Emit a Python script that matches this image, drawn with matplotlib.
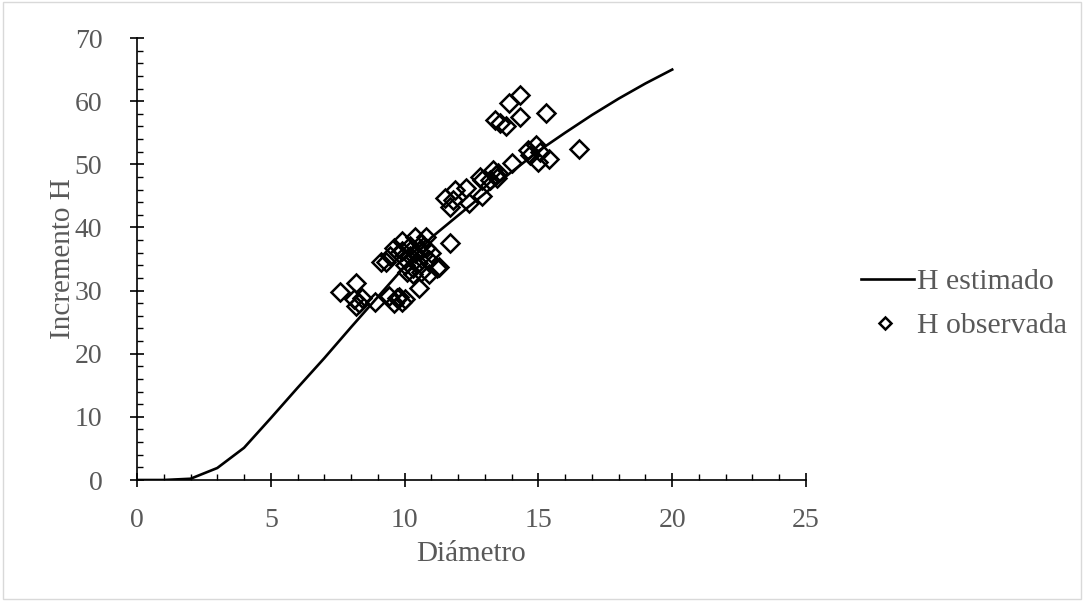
import matplotlib
matplotlib.use("Agg")
import matplotlib.pyplot as plt
from matplotlib.ticker import MultipleLocator
from matplotlib.patches import Rectangle

# Estimated curve
diam_est = [0, 1, 2, 3, 4, 5, 6, 7, 8, 9, 10, 11, 12, 13, 14, 15, 16, 17, 18, 19, 20]
h_est = [0.0, 0.0, 0.2, 1.9, 5.1, 9.8, 14.6, 19.3, 24.2, 29.0, 33.8, 38.4,
         41.9, 45.4, 48.8, 52.1, 55.0, 57.8, 60.4, 62.8, 65.0]

# Observed points
diam_obs = [7.6, 8.2, 8.1, 8.2, 8.3, 8.4, 8.9, 9.4, 9.6, 9.8, 10.0, 9.7, 9.9,
            10.55, 9.1, 9.3, 9.45, 9.8, 9.6, 9.9, 10.0, 10.2, 10.4, 10.55, 10.8,
            10.9, 10.1, 10.3, 10.5, 10.7, 9.9, 10.2, 10.4, 10.6, 10.8, 11.0,
            10.9, 11.2, 11.3, 10.0, 10.3, 10.6, 11.7,
            11.5, 11.7, 11.9, 12.3, 12.4, 11.8, 12.9,
            12.8, 12.9, 13.2, 13.3, 13.4, 13.5, 13.45,
            14.0, 14.6, 14.7, 14.9, 15.0, 15.05, 15.4,
            13.36, 13.55, 13.8, 13.9, 14.3, 14.3, 15.3, 16.5]
h_obs = [29.8, 31.2, 28.6, 27.6, 28.0, 28.8, 28.2, 29.2, 28.0, 29.0, 28.6, 28.8, 28.2,
         30.4, 34.6, 34.6, 35.4, 35.9, 36.8, 37.8, 34.0, 35.5, 38.5, 36.2, 38.5,
         34.8, 33.0, 33.6, 34.4, 35.6, 36.2, 37.0, 36.0, 37.4, 36.8, 36.0,
         32.7, 33.5, 33.8, 35.0, 32.6, 32.9, 37.5,
         44.6, 43.3, 45.9, 46.2, 43.8, 44.3, 44.9,
         48.0, 47.5, 47.5, 49.1, 48.3, 48.6, 47.8,
         50.2, 52.3, 51.5, 53.1, 50.4, 52.0, 50.9,
         57.0, 56.5, 56.0, 59.7, 61.0, 57.5, 58.1, 52.5]

x_ticks = [0, 5, 10, 15, 20, 25]
y_ticks = [0, 10, 20, 30, 40, 50, 60, 70]

plt.rcParams['font.family'] = ['Liberation Serif', 'DejaVu Serif']
txt = '#595959'

fig = plt.figure(figsize=(10.84, 6.01), dpi=100)
ax = fig.add_axes([137/1084, 121/601, 669/1084, 442/601])

line_est, = ax.plot(diam_est, h_est, color='black', lw=1.9, label='H estimado', zorder=3)
pts_obs, = ax.plot(diam_obs, h_obs, linestyle='none', marker='D', ms=9.5, mfc='none',
                   mec='black', mew=1.8, label='H observada', zorder=4)

ax.set_xlim(0, 25)
ax.set_ylim(0, 70)
ax.set_xticks(x_ticks)
ax.set_yticks(y_ticks)
ax.xaxis.set_minor_locator(MultipleLocator(1))
ax.yaxis.set_minor_locator(MultipleLocator(2))
for s in ['top', 'right']:
    ax.spines[s].set_visible(False)
for s in ['left', 'bottom']:
    ax.spines[s].set_color('black')
    ax.spines[s].set_linewidth(1.2)
ax.tick_params(which='major', direction='inout', length=10, width=1.2,
               colors='black', labelcolor=txt, labelsize=20)
ax.tick_params(which='minor', direction='in', length=4.5, width=1.0, colors='black')
ax.tick_params(axis='y', which='major', pad=20)
ax.tick_params(axis='x', which='major', pad=15)

ax.set_xlabel('Diámetro', fontsize=21, color=txt, labelpad=6)
ax.set_ylabel('Incremento H', fontsize=21, color=txt, labelpad=-1)

fs = 21.5
fpx = fs * 100 / 72
leg1 = fig.legend(handles=[line_est], loc='center left',
                  bbox_to_anchor=(861/1084, 1 - 282/601), frameon=False,
                  fontsize=fs, labelcolor=txt, handlelength=53/fpx,
                  handletextpad=3/fpx, borderpad=0, borderaxespad=0)
leg2 = fig.legend(handles=[pts_obs], loc='center left',
                  bbox_to_anchor=(861/1084, 1 - 326/601), frameon=False,
                  fontsize=fs, labelcolor=txt, handlelength=48/fpx,
                  handletextpad=8/fpx, borderpad=0, borderaxespad=0, markerscale=0.65)

fig.patches.append(Rectangle((0.003, 0.003), 0.994, 0.994, transform=fig.transFigure,
                             fill=False, edgecolor='#d9d9d9', lw=1.0))

fig.savefig('out.png', dpi=100)
